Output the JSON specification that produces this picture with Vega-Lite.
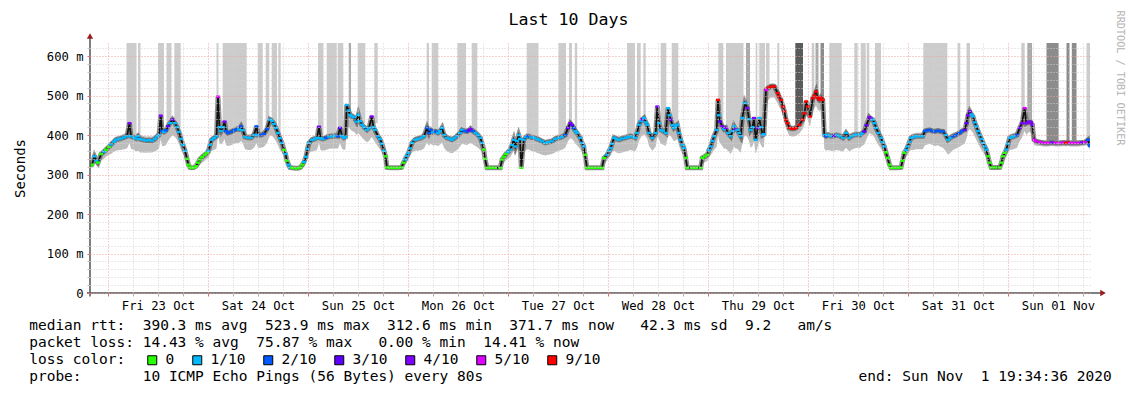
{
"$schema": "https://vega.github.io/schema/vega-lite/v6.json",
"width": 1000,
"height": 250,
"autosize": {"type": "none"},
"padding": {"left": 90, "top": 43, "right": 43, "bottom": 104},
"background": "white",
"config": {"font": "DejaVu Sans Mono", "view": {"stroke": null}},
"datasets": {
"bars": [
{"d0":0.185,"d1":0.285,"b":400,"s":1},{"d0":0.30,"d1":0.325,"b":400,"s":1},{"d0":0.50,"d1":0.56,"b":405,"s":1},{"d0":0.585,"d1":0.635,"b":410,"s":1},{"d0":0.663,"d1":0.727,"b":420,"s":1},
{"d0":1.085,"d1":1.105,"b":410,"s":1},{"d0":1.147,"d1":1.387,"b":400,"s":1},{"d0":1.497,"d1":1.547,"b":400,"s":1},{"d0":1.577,"d1":1.613,"b":410,"s":1},{"d0":1.637,"d1":1.69,"b":420,"s":1},{"d0":1.703,"d1":1.727,"b":400,"s":1},
{"d0":2.10,"d1":2.155,"b":400,"s":1},{"d0":2.187,"d1":2.287,"b":400,"s":1},{"d0":2.297,"d1":2.353,"b":400,"s":1},{"d0":2.407,"d1":2.43,"b":450,"s":2},{"d0":2.497,"d1":2.573,"b":430,"s":1},{"d0":2.663,"d1":2.697,"b":430,"s":1},
{"d0":3.187,"d1":3.21,"b":405,"s":1},{"d0":3.237,"d1":3.303,"b":405,"s":1},{"d0":3.493,"d1":3.58,"b":400,"s":1},{"d0":3.637,"d1":3.693,"b":410,"s":1},
{"d0":4.187,"d1":4.305,"b":395,"s":1},{"d0":4.505,"d1":4.58,"b":395,"s":1},{"d0":4.61,"d1":4.64,"b":415,"s":1},{"d0":4.668,"d1":4.692,"b":410,"s":1},
{"d0":5.19,"d1":5.27,"b":395,"s":1},{"d0":5.29,"d1":5.327,"b":395,"s":1},{"d0":5.353,"d1":5.377,"b":400,"s":1},{"d0":5.527,"d1":5.583,"b":410,"s":1},{"d0":5.637,"d1":5.703,"b":420,"s":1},
{"d0":6.103,"d1":6.153,"b":420,"s":1},{"d0":6.18,"d1":6.355,"b":405,"s":1},{"d0":6.38,"d1":6.42,"b":430,"s":2},{"d0":6.477,"d1":6.493,"b":400,"s":1},{"d0":6.513,"d1":6.57,"b":405,"s":1},{"d0":6.58,"d1":6.615,"b":515,"s":1},{"d0":6.693,"d1":6.713,"b":500,"s":1},{"d0":6.873,"d1":6.95,"b":418,"s":4},
{"d0":7.037,"d1":7.063,"b":480,"s":1},{"d0":7.075,"d1":7.105,"b":490,"s":2},{"d0":7.125,"d1":7.16,"b":480,"s":3},{"d0":7.213,"d1":7.337,"b":400,"s":1},{"d0":7.463,"d1":7.497,"b":400,"s":1},{"d0":7.527,"d1":7.577,"b":405,"s":1},{"d0":7.587,"d1":7.613,"b":440,"s":1},{"d0":7.67,"d1":7.73,"b":400,"s":1},
{"d0":8.153,"d1":8.393,"b":405,"s":1},{"d0":8.495,"d1":8.523,"b":405,"s":1},{"d0":8.585,"d1":8.62,"b":440,"s":1},
{"d0":9.133,"d1":9.167,"b":430,"s":1},{"d0":9.193,"d1":9.24,"b":430,"s":2},{"d0":9.385,"d1":9.507,"b":385,"s":3},{"d0":9.585,"d1":9.615,"b":385,"s":3},{"d0":9.638,"d1":9.685,"b":385,"s":3},{"d0":9.785,"d1":9.82,"b":390,"s":1}
],
"pts": [
{"d":-0.175,"m":323,"lo":318,"hi":328,"l":"0"},
{"d":-0.16,"m":325,"lo":318,"hi":332,"l":"0"},
{"d":-0.135,"m":346,"lo":330,"hi":352,"l":"1/10"},
{"d":-0.115,"m":335,"lo":322,"hi":342,"l":"1/10"},
{"d":-0.1,"m":330,"lo":320,"hi":338,"l":"0"},
{"d":-0.07,"m":352,"lo":336,"hi":358,"l":"0"},
{"d":-0.04,"m":358,"lo":340,"hi":365,"l":"1/10"},
{"d":-0.02,"m":363,"lo":345,"hi":370,"l":"0"},
{"d":0.01,"m":370,"lo":350,"hi":378,"l":"0"},
{"d":0.03,"m":376,"lo":352,"hi":384,"l":"1/10"},
{"d":0.06,"m":383,"lo":358,"hi":392,"l":"1/10"},
{"d":0.08,"m":388,"lo":360,"hi":396,"l":"1/10"},
{"d":0.11,"m":390,"lo":362,"hi":398,"l":"1/10"},
{"d":0.13,"m":391,"lo":362,"hi":400,"l":"1/10"},
{"d":0.16,"m":394,"lo":364,"hi":403,"l":"1/10"},
{"d":0.19,"m":397,"lo":366,"hi":406,"l":"1/10"},
{"d":0.215,"m":430,"lo":380,"hi":436,"l":"4/10"},
{"d":0.23,"m":397,"lo":365,"hi":406,"l":"1/10"},
{"d":0.26,"m":393,"lo":362,"hi":403,"l":"1/10"},
{"d":0.28,"m":391,"lo":358,"hi":401,"l":"1/10"},
{"d":0.30,"m":397,"lo":360,"hi":406,"l":"1/10"},
{"d":0.32,"m":390,"lo":356,"hi":400,"l":"1/10"},
{"d":0.35,"m":388,"lo":356,"hi":398,"l":"1/10"},
{"d":0.38,"m":386,"lo":355,"hi":396,"l":"1/10"},
{"d":0.41,"m":387,"lo":356,"hi":397,"l":"1/10"},
{"d":0.44,"m":386,"lo":356,"hi":396,"l":"1/10"},
{"d":0.47,"m":390,"lo":358,"hi":400,"l":"1/10"},
{"d":0.49,"m":396,"lo":362,"hi":405,"l":"1/10"},
{"d":0.51,"m":400,"lo":366,"hi":410,"l":"1/10"},
{"d":0.527,"m":449,"lo":390,"hi":455,"l":"4/10"},
{"d":0.54,"m":410,"lo":372,"hi":418,"l":"2/10"},
{"d":0.56,"m":408,"lo":372,"hi":416,"l":"1/10"},
{"d":0.58,"m":412,"lo":375,"hi":420,"l":"2/10"},
{"d":0.60,"m":422,"lo":385,"hi":430,"l":"3/10"},
{"d":0.62,"m":430,"lo":392,"hi":438,"l":"1/10"},
{"d":0.645,"m":439,"lo":400,"hi":446,"l":"4/10"},
{"d":0.67,"m":430,"lo":395,"hi":438,"l":"1/10"},
{"d":0.69,"m":420,"lo":388,"hi":428,"l":"1/10"},
{"d":0.71,"m":408,"lo":378,"hi":416,"l":"1/10"},
{"d":0.73,"m":390,"lo":362,"hi":398,"l":"1/10"},
{"d":0.75,"m":375,"lo":352,"hi":383,"l":"1/10"},
{"d":0.77,"m":360,"lo":342,"hi":367,"l":"1/10"},
{"d":0.79,"m":340,"lo":326,"hi":346,"l":"0"},
{"d":0.805,"m":325,"lo":318,"hi":330,"l":"0"},
{"d":0.82,"m":318,"lo":313,"hi":322,"l":"0"},
{"d":0.84,"m":317,"lo":313,"hi":321,"l":"0"},
{"d":0.86,"m":318,"lo":313,"hi":322,"l":"0"},
{"d":0.88,"m":321,"lo":315,"hi":326,"l":"0"},
{"d":0.90,"m":330,"lo":320,"hi":336,"l":"0"},
{"d":0.917,"m":338,"lo":325,"hi":344,"l":"0"},
{"d":0.94,"m":344,"lo":330,"hi":350,"l":"0"},
{"d":0.967,"m":350,"lo":335,"hi":356,"l":"0"},
{"d":0.99,"m":355,"lo":340,"hi":361,"l":"0"},
{"d":1.005,"m":360,"lo":343,"hi":367,"l":"1/10"},
{"d":1.02,"m":375,"lo":352,"hi":382,"l":"1/10"},
{"d":1.035,"m":388,"lo":360,"hi":396,"l":"1/10"},
{"d":1.06,"m":392,"lo":362,"hi":401,"l":"1/10"},
{"d":1.085,"m":397,"lo":366,"hi":406,"l":"1/10"},
{"d":1.10,"m":497,"lo":400,"hi":502,"l":"5/10"},
{"d":1.115,"m":420,"lo":380,"hi":428,"l":"1/10"},
{"d":1.13,"m":410,"lo":376,"hi":418,"l":"1/10"},
{"d":1.15,"m":420,"lo":382,"hi":428,"l":"1/10"},
{"d":1.165,"m":434,"lo":390,"hi":440,"l":"4/10"},
{"d":1.18,"m":410,"lo":375,"hi":418,"l":"2/10"},
{"d":1.20,"m":405,"lo":372,"hi":413,"l":"2/10"},
{"d":1.23,"m":408,"lo":374,"hi":416,"l":"2/10"},
{"d":1.26,"m":412,"lo":378,"hi":420,"l":"2/10"},
{"d":1.29,"m":415,"lo":380,"hi":423,"l":"2/10"},
{"d":1.31,"m":414,"lo":380,"hi":422,"l":"1/10"},
{"d":1.33,"m":422,"lo":385,"hi":430,"l":"2/10"},
{"d":1.35,"m":412,"lo":378,"hi":420,"l":"1/10"},
{"d":1.37,"m":395,"lo":364,"hi":404,"l":"1/10"},
{"d":1.40,"m":393,"lo":362,"hi":402,"l":"1/10"},
{"d":1.43,"m":393,"lo":362,"hi":402,"l":"1/10"},
{"d":1.46,"m":400,"lo":368,"hi":408,"l":"1/10"},
{"d":1.485,"m":422,"lo":380,"hi":428,"l":"2/10"},
{"d":1.50,"m":400,"lo":368,"hi":408,"l":"1/10"},
{"d":1.53,"m":400,"lo":368,"hi":408,"l":"2/10"},
{"d":1.56,"m":403,"lo":370,"hi":411,"l":"2/10"},
{"d":1.59,"m":415,"lo":380,"hi":423,"l":"2/10"},
{"d":1.62,"m":439,"lo":400,"hi":446,"l":"1/10"},
{"d":1.64,"m":436,"lo":398,"hi":444,"l":"1/10"},
{"d":1.66,"m":428,"lo":392,"hi":436,"l":"1/10"},
{"d":1.68,"m":418,"lo":384,"hi":426,"l":"1/10"},
{"d":1.70,"m":405,"lo":374,"hi":413,"l":"1/10"},
{"d":1.72,"m":392,"lo":362,"hi":400,"l":"1/10"},
{"d":1.74,"m":380,"lo":355,"hi":388,"l":"1/10"},
{"d":1.76,"m":362,"lo":344,"hi":369,"l":"0"},
{"d":1.775,"m":352,"lo":337,"hi":358,"l":"1/10"},
{"d":1.79,"m":335,"lo":322,"hi":341,"l":"0"},
{"d":1.805,"m":325,"lo":316,"hi":330,"l":"1/10"},
{"d":1.82,"m":318,"lo":313,"hi":322,"l":"1/10"},
{"d":1.84,"m":317,"lo":313,"hi":321,"l":"0"},
{"d":1.87,"m":316,"lo":312,"hi":320,"l":"0"},
{"d":1.90,"m":316,"lo":312,"hi":320,"l":"0"},
{"d":1.925,"m":318,"lo":313,"hi":322,"l":"0"},
{"d":1.945,"m":325,"lo":317,"hi":330,"l":"0"},
{"d":1.96,"m":332,"lo":321,"hi":338,"l":"1/10"},
{"d":1.98,"m":345,"lo":330,"hi":351,"l":"1/10"},
{"d":1.995,"m":365,"lo":345,"hi":372,"l":"1/10"},
{"d":2.01,"m":380,"lo":355,"hi":388,"l":"1/10"},
{"d":2.04,"m":388,"lo":358,"hi":396,"l":"1/10"},
{"d":2.07,"m":390,"lo":360,"hi":398,"l":"1/10"},
{"d":2.09,"m":393,"lo":362,"hi":402,"l":"1/10"},
{"d":2.11,"m":421,"lo":380,"hi":428,"l":"4/10"},
{"d":2.125,"m":392,"lo":362,"hi":400,"l":"1/10"},
{"d":2.15,"m":390,"lo":360,"hi":398,"l":"1/10"},
{"d":2.18,"m":393,"lo":362,"hi":402,"l":"2/10"},
{"d":2.21,"m":396,"lo":365,"hi":405,"l":"1/10"},
{"d":2.24,"m":397,"lo":366,"hi":406,"l":"1/10"},
{"d":2.27,"m":398,"lo":366,"hi":407,"l":"1/10"},
{"d":2.30,"m":397,"lo":366,"hi":406,"l":"2/10"},
{"d":2.32,"m":418,"lo":380,"hi":425,"l":"3/10"},
{"d":2.34,"m":398,"lo":366,"hi":407,"l":"1/10"},
{"d":2.36,"m":393,"lo":362,"hi":402,"l":"1/10"},
{"d":2.375,"m":395,"lo":364,"hi":404,"l":"1/10"},
{"d":2.387,"m":476,"lo":420,"hi":482,"l":"1/10"},
{"d":2.405,"m":462,"lo":420,"hi":470,"l":"1/10"},
{"d":2.42,"m":451,"lo":415,"hi":460,"l":"1/10"},
{"d":2.44,"m":447,"lo":410,"hi":456,"l":"1/10"},
{"d":2.46,"m":445,"lo":408,"hi":454,"l":"1/10"},
{"d":2.485,"m":434,"lo":400,"hi":443,"l":"1/10"},
{"d":2.503,"m":451,"lo":405,"hi":458,"l":"1/10"},
{"d":2.52,"m":435,"lo":400,"hi":443,"l":"1/10"},
{"d":2.54,"m":426,"lo":394,"hi":434,"l":"1/10"},
{"d":2.56,"m":420,"lo":388,"hi":428,"l":"1/10"},
{"d":2.59,"m":413,"lo":382,"hi":421,"l":"1/10"},
{"d":2.61,"m":418,"lo":385,"hi":426,"l":"1/10"},
{"d":2.637,"m":447,"lo":395,"hi":453,"l":"4/10"},
{"d":2.655,"m":420,"lo":388,"hi":428,"l":"1/10"},
{"d":2.67,"m":413,"lo":382,"hi":421,"l":"1/10"},
{"d":2.70,"m":397,"lo":370,"hi":405,"l":"1/10"},
{"d":2.72,"m":390,"lo":364,"hi":398,"l":"1/10"},
{"d":2.74,"m":378,"lo":356,"hi":386,"l":"1/10"},
{"d":2.76,"m":360,"lo":343,"hi":367,"l":"1/10"},
{"d":2.775,"m":346,"lo":332,"hi":352,"l":"0"},
{"d":2.79,"m":318,"lo":313,"hi":323,"l":"0"},
{"d":2.82,"m":317,"lo":313,"hi":321,"l":"0"},
{"d":2.86,"m":317,"lo":313,"hi":321,"l":"0"},
{"d":2.90,"m":317,"lo":313,"hi":321,"l":"0"},
{"d":2.935,"m":318,"lo":313,"hi":322,"l":"0"},
{"d":2.955,"m":330,"lo":320,"hi":336,"l":"0"},
{"d":2.97,"m":338,"lo":325,"hi":344,"l":"1/10"},
{"d":2.99,"m":347,"lo":332,"hi":353,"l":"1/10"},
{"d":3.005,"m":355,"lo":338,"hi":361,"l":"1/10"},
{"d":3.02,"m":366,"lo":346,"hi":373,"l":"1/10"},
{"d":3.04,"m":380,"lo":356,"hi":388,"l":"1/10"},
{"d":3.07,"m":388,"lo":360,"hi":396,"l":"1/10"},
{"d":3.10,"m":390,"lo":360,"hi":398,"l":"1/10"},
{"d":3.135,"m":393,"lo":362,"hi":402,"l":"1/10"},
{"d":3.16,"m":397,"lo":366,"hi":406,"l":"1/10"},
{"d":3.19,"m":418,"lo":382,"hi":425,"l":"2/10"},
{"d":3.21,"m":405,"lo":372,"hi":413,"l":"2/10"},
{"d":3.225,"m":413,"lo":378,"hi":421,"l":"2/10"},
{"d":3.25,"m":407,"lo":374,"hi":415,"l":"1/10"},
{"d":3.275,"m":409,"lo":375,"hi":417,"l":"2/10"},
{"d":3.30,"m":405,"lo":372,"hi":413,"l":"1/10"},
{"d":3.32,"m":410,"lo":376,"hi":418,"l":"1/10"},
{"d":3.34,"m":418,"lo":382,"hi":426,"l":"1/10"},
{"d":3.36,"m":400,"lo":368,"hi":408,"l":"1/10"},
{"d":3.39,"m":393,"lo":358,"hi":402,"l":"1/10"},
{"d":3.42,"m":390,"lo":355,"hi":398,"l":"1/10"},
{"d":3.44,"m":388,"lo":354,"hi":396,"l":"1/10"},
{"d":3.465,"m":392,"lo":357,"hi":400,"l":"1/10"},
{"d":3.49,"m":397,"lo":362,"hi":406,"l":"1/10"},
{"d":3.52,"m":405,"lo":370,"hi":413,"l":"1/10"},
{"d":3.54,"m":413,"lo":378,"hi":421,"l":"1/10"},
{"d":3.565,"m":410,"lo":376,"hi":418,"l":"2/10"},
{"d":3.59,"m":409,"lo":375,"hi":417,"l":"2/10"},
{"d":3.61,"m":412,"lo":378,"hi":420,"l":"3/10"},
{"d":3.625,"m":416,"lo":380,"hi":424,"l":"4/10"},
{"d":3.65,"m":410,"lo":376,"hi":418,"l":"2/10"},
{"d":3.675,"m":405,"lo":372,"hi":413,"l":"1/10"},
{"d":3.70,"m":400,"lo":368,"hi":408,"l":"1/10"},
{"d":3.723,"m":393,"lo":362,"hi":401,"l":"1/10"},
{"d":3.74,"m":380,"lo":356,"hi":388,"l":"1/10"},
{"d":3.757,"m":363,"lo":345,"hi":370,"l":"0"},
{"d":3.77,"m":340,"lo":326,"hi":346,"l":"0"},
{"d":3.79,"m":317,"lo":313,"hi":321,"l":"0"},
{"d":3.83,"m":317,"lo":313,"hi":321,"l":"0"},
{"d":3.87,"m":317,"lo":313,"hi":321,"l":"0"},
{"d":3.923,"m":317,"lo":313,"hi":321,"l":"0"},
{"d":3.94,"m":338,"lo":325,"hi":344,"l":"0"},
{"d":3.96,"m":345,"lo":330,"hi":351,"l":"0"},
{"d":3.98,"m":352,"lo":336,"hi":358,"l":"0"},
{"d":4.00,"m":357,"lo":340,"hi":364,"l":"1/10"},
{"d":4.023,"m":363,"lo":344,"hi":370,"l":"1/10"},
{"d":4.04,"m":375,"lo":352,"hi":382,"l":"1/10"},
{"d":4.057,"m":388,"lo":360,"hi":396,"l":"1/10"},
{"d":4.073,"m":371,"lo":350,"hi":378,"l":"1/10"},
{"d":4.09,"m":385,"lo":358,"hi":393,"l":"1/10"},
{"d":4.107,"m":400,"lo":366,"hi":408,"l":"1/10"},
{"d":4.12,"m":390,"lo":360,"hi":398,"l":"1/10"},
{"d":4.133,"m":317,"lo":313,"hi":322,"l":"0"},
{"d":4.157,"m":388,"lo":358,"hi":396,"l":"1/10"},
{"d":4.18,"m":395,"lo":362,"hi":404,"l":"1/10"},
{"d":4.20,"m":397,"lo":364,"hi":406,"l":"2/10"},
{"d":4.23,"m":394,"lo":360,"hi":403,"l":"1/10"},
{"d":4.26,"m":393,"lo":358,"hi":402,"l":"1/10"},
{"d":4.29,"m":390,"lo":355,"hi":398,"l":"1/10"},
{"d":4.31,"m":388,"lo":353,"hi":396,"l":"1/10"},
{"d":4.34,"m":384,"lo":350,"hi":392,"l":"1/10"},
{"d":4.373,"m":380,"lo":348,"hi":388,"l":"1/10"},
{"d":4.40,"m":382,"lo":350,"hi":390,"l":"1/10"},
{"d":4.44,"m":384,"lo":352,"hi":392,"l":"1/10"},
{"d":4.47,"m":390,"lo":356,"hi":398,"l":"1/10"},
{"d":4.507,"m":393,"lo":360,"hi":402,"l":"1/10"},
{"d":4.54,"m":395,"lo":363,"hi":404,"l":"1/10"},
{"d":4.573,"m":400,"lo":368,"hi":408,"l":"2/10"},
{"d":4.60,"m":418,"lo":384,"hi":426,"l":"3/10"},
{"d":4.623,"m":430,"lo":392,"hi":438,"l":"4/10"},
{"d":4.64,"m":425,"lo":390,"hi":433,"l":"3/10"},
{"d":4.657,"m":418,"lo":385,"hi":426,"l":"2/10"},
{"d":4.675,"m":410,"lo":378,"hi":418,"l":"1/10"},
{"d":4.69,"m":405,"lo":374,"hi":413,"l":"1/10"},
{"d":4.723,"m":393,"lo":364,"hi":401,"l":"1/10"},
{"d":4.74,"m":380,"lo":356,"hi":388,"l":"1/10"},
{"d":4.757,"m":371,"lo":350,"hi":378,"l":"1/10"},
{"d":4.77,"m":350,"lo":335,"hi":356,"l":"0"},
{"d":4.79,"m":317,"lo":313,"hi":321,"l":"0"},
{"d":4.82,"m":317,"lo":313,"hi":321,"l":"0"},
{"d":4.86,"m":317,"lo":313,"hi":321,"l":"0"},
{"d":4.90,"m":317,"lo":313,"hi":321,"l":"0"},
{"d":4.94,"m":317,"lo":313,"hi":321,"l":"0"},
{"d":4.96,"m":342,"lo":328,"hi":348,"l":"0"},
{"d":4.993,"m":350,"lo":335,"hi":356,"l":"1/10"},
{"d":5.01,"m":360,"lo":343,"hi":367,"l":"1/10"},
{"d":5.027,"m":367,"lo":348,"hi":374,"l":"1/10"},
{"d":5.04,"m":378,"lo":355,"hi":386,"l":"1/10"},
{"d":5.06,"m":393,"lo":360,"hi":402,"l":"1/10"},
{"d":5.085,"m":390,"lo":356,"hi":398,"l":"1/10"},
{"d":5.11,"m":388,"lo":354,"hi":396,"l":"1/10"},
{"d":5.14,"m":391,"lo":356,"hi":399,"l":"1/10"},
{"d":5.177,"m":393,"lo":358,"hi":402,"l":"1/10"},
{"d":5.20,"m":395,"lo":360,"hi":404,"l":"1/10"},
{"d":5.227,"m":397,"lo":362,"hi":406,"l":"1/10"},
{"d":5.25,"m":395,"lo":360,"hi":404,"l":"1/10"},
{"d":5.27,"m":393,"lo":358,"hi":402,"l":"1/10"},
{"d":5.29,"m":405,"lo":368,"hi":413,"l":"1/10"},
{"d":5.31,"m":426,"lo":385,"hi":434,"l":"1/10"},
{"d":5.33,"m":435,"lo":395,"hi":443,"l":"1/10"},
{"d":5.345,"m":440,"lo":400,"hi":448,"l":"4/10"},
{"d":5.36,"m":443,"lo":402,"hi":450,"l":"1/10"},
{"d":5.38,"m":432,"lo":395,"hi":440,"l":"1/10"},
{"d":5.393,"m":426,"lo":390,"hi":434,"l":"1/10"},
{"d":5.41,"m":405,"lo":372,"hi":413,"l":"1/10"},
{"d":5.443,"m":393,"lo":360,"hi":402,"l":"1/10"},
{"d":5.477,"m":405,"lo":370,"hi":413,"l":"1/10"},
{"d":5.493,"m":472,"lo":395,"hi":478,"l":"4/10"},
{"d":5.51,"m":430,"lo":390,"hi":438,"l":"1/10"},
{"d":5.527,"m":413,"lo":378,"hi":421,"l":"1/10"},
{"d":5.55,"m":410,"lo":376,"hi":418,"l":"1/10"},
{"d":5.577,"m":405,"lo":372,"hi":413,"l":"1/10"},
{"d":5.60,"m":468,"lo":395,"hi":474,"l":"1/10"},
{"d":5.615,"m":450,"lo":400,"hi":456,"l":"1/10"},
{"d":5.627,"m":439,"lo":398,"hi":446,"l":"4/10"},
{"d":5.645,"m":425,"lo":390,"hi":433,"l":"1/10"},
{"d":5.66,"m":418,"lo":384,"hi":426,"l":"1/10"},
{"d":5.675,"m":422,"lo":386,"hi":430,"l":"1/10"},
{"d":5.693,"m":426,"lo":390,"hi":434,"l":"1/10"},
{"d":5.71,"m":405,"lo":372,"hi":413,"l":"1/10"},
{"d":5.727,"m":388,"lo":360,"hi":396,"l":"1/10"},
{"d":5.745,"m":375,"lo":352,"hi":382,"l":"1/10"},
{"d":5.76,"m":367,"lo":348,"hi":374,"l":"1/10"},
{"d":5.777,"m":342,"lo":328,"hi":348,"l":"0"},
{"d":5.793,"m":317,"lo":313,"hi":321,"l":"0"},
{"d":5.84,"m":317,"lo":313,"hi":321,"l":"0"},
{"d":5.88,"m":317,"lo":313,"hi":321,"l":"0"},
{"d":5.927,"m":317,"lo":313,"hi":321,"l":"0"},
{"d":5.943,"m":342,"lo":328,"hi":348,"l":"0"},
{"d":5.97,"m":346,"lo":331,"hi":352,"l":"0"},
{"d":5.993,"m":350,"lo":334,"hi":356,"l":"0"},
{"d":6.01,"m":362,"lo":343,"hi":369,"l":"1/10"},
{"d":6.027,"m":371,"lo":349,"hi":378,"l":"1/10"},
{"d":6.045,"m":385,"lo":356,"hi":393,"l":"1/10"},
{"d":6.06,"m":397,"lo":362,"hi":406,"l":"1/10"},
{"d":6.087,"m":413,"lo":370,"hi":421,"l":"1/10"},
{"d":6.10,"m":489,"lo":400,"hi":495,"l":"9/10"},
{"d":6.11,"m":450,"lo":385,"hi":458,"l":"1/10"},
{"d":6.12,"m":434,"lo":380,"hi":442,"l":"3/10"},
{"d":6.143,"m":422,"lo":372,"hi":430,"l":"4/10"},
{"d":6.16,"m":415,"lo":365,"hi":423,"l":"1/10"},
{"d":6.177,"m":418,"lo":366,"hi":426,"l":"4/10"},
{"d":6.20,"m":405,"lo":360,"hi":413,"l":"1/10"},
{"d":6.227,"m":397,"lo":352,"hi":406,"l":"1/10"},
{"d":6.245,"m":410,"lo":362,"hi":418,"l":"1/10"},
{"d":6.26,"m":422,"lo":370,"hi":430,"l":"1/10"},
{"d":6.275,"m":415,"lo":366,"hi":423,"l":"4/10"},
{"d":6.293,"m":413,"lo":365,"hi":421,"l":"1/10"},
{"d":6.31,"m":405,"lo":360,"hi":413,"l":"1/10"},
{"d":6.327,"m":397,"lo":355,"hi":406,"l":"1/10"},
{"d":6.343,"m":443,"lo":380,"hi":450,"l":"1/10"},
{"d":6.37,"m":481,"lo":400,"hi":487,"l":"1/10"},
{"d":6.393,"m":468,"lo":395,"hi":474,"l":"4/10"},
{"d":6.41,"m":440,"lo":385,"hi":447,"l":"1/10"},
{"d":6.427,"m":413,"lo":368,"hi":421,"l":"1/10"},
{"d":6.445,"m":420,"lo":372,"hi":428,"l":"1/10"},
{"d":6.46,"m":443,"lo":385,"hi":450,"l":"4/10"},
{"d":6.477,"m":388,"lo":352,"hi":396,"l":"1/10"},
{"d":6.497,"m":418,"lo":370,"hi":426,"l":"4/10"},
{"d":6.513,"m":443,"lo":385,"hi":450,"l":"1/10"},
{"d":6.53,"m":420,"lo":375,"hi":428,"l":"1/10"},
{"d":6.547,"m":400,"lo":368,"hi":408,"l":"1/10"},
{"d":6.56,"m":402,"lo":370,"hi":410,"l":"1/10"},
{"d":6.58,"m":514,"lo":470,"hi":520,"l":"5/10"},
{"d":6.605,"m":520,"lo":490,"hi":528,"l":"9/10"},
{"d":6.63,"m":523,"lo":495,"hi":531,"l":"9/10"},
{"d":6.663,"m":523,"lo":495,"hi":531,"l":"9/10"},
{"d":6.697,"m":506,"lo":480,"hi":514,"l":"9/10"},
{"d":6.71,"m":498,"lo":472,"hi":506,"l":"9/10"},
{"d":6.73,"m":489,"lo":464,"hi":497,"l":"9/10"},
{"d":6.75,"m":472,"lo":448,"hi":480,"l":"9/10"},
{"d":6.763,"m":460,"lo":436,"hi":468,"l":"9/10"},
{"d":6.78,"m":439,"lo":416,"hi":447,"l":"9/10"},
{"d":6.795,"m":430,"lo":408,"hi":438,"l":"9/10"},
{"d":6.813,"m":418,"lo":398,"hi":426,"l":"9/10"},
{"d":6.84,"m":416,"lo":396,"hi":424,"l":"9/10"},
{"d":6.86,"m":416,"lo":396,"hi":424,"l":"9/10"},
{"d":6.88,"m":418,"lo":398,"hi":426,"l":"9/10"},
{"d":6.913,"m":426,"lo":404,"hi":434,"l":"9/10"},
{"d":6.947,"m":439,"lo":415,"hi":447,"l":"9/10"},
{"d":6.965,"m":455,"lo":428,"hi":463,"l":"9/10"},
{"d":6.98,"m":485,"lo":450,"hi":492,"l":"9/10"},
{"d":6.997,"m":472,"lo":440,"hi":480,"l":"9/10"},
{"d":7.02,"m":447,"lo":420,"hi":455,"l":"9/10"},
{"d":7.047,"m":493,"lo":460,"hi":500,"l":"9/10"},
{"d":7.065,"m":500,"lo":468,"hi":508,"l":"9/10"},
{"d":7.08,"m":510,"lo":475,"hi":518,"l":"9/10"},
{"d":7.095,"m":495,"lo":465,"hi":503,"l":"9/10"},
{"d":7.113,"m":489,"lo":460,"hi":497,"l":"9/10"},
{"d":7.13,"m":495,"lo":465,"hi":503,"l":"9/10"},
{"d":7.147,"m":489,"lo":460,"hi":497,"l":"9/10"},
{"d":7.163,"m":400,"lo":365,"hi":408,"l":"1/10"},
{"d":7.18,"m":397,"lo":360,"hi":406,"l":"2/10"},
{"d":7.20,"m":400,"lo":362,"hi":408,"l":"1/10"},
{"d":7.23,"m":397,"lo":360,"hi":406,"l":"1/10"},
{"d":7.26,"m":398,"lo":360,"hi":407,"l":"3/10"},
{"d":7.29,"m":400,"lo":362,"hi":408,"l":"1/10"},
{"d":7.32,"m":397,"lo":360,"hi":406,"l":"1/10"},
{"d":7.35,"m":393,"lo":358,"hi":402,"l":"1/10"},
{"d":7.38,"m":405,"lo":368,"hi":413,"l":"1/10"},
{"d":7.413,"m":393,"lo":358,"hi":402,"l":"1/10"},
{"d":7.435,"m":397,"lo":362,"hi":406,"l":"1/10"},
{"d":7.463,"m":400,"lo":366,"hi":408,"l":"1/10"},
{"d":7.49,"m":401,"lo":368,"hi":409,"l":"1/10"},
{"d":7.52,"m":400,"lo":368,"hi":408,"l":"1/10"},
{"d":7.54,"m":404,"lo":372,"hi":412,"l":"1/10"},
{"d":7.563,"m":409,"lo":376,"hi":417,"l":"3/10"},
{"d":7.585,"m":425,"lo":390,"hi":433,"l":"3/10"},
{"d":7.613,"m":445,"lo":405,"hi":452,"l":"4/10"},
{"d":7.63,"m":441,"lo":402,"hi":448,"l":"4/10"},
{"d":7.647,"m":439,"lo":400,"hi":446,"l":"1/10"},
{"d":7.665,"m":430,"lo":394,"hi":438,"l":"1/10"},
{"d":7.68,"m":418,"lo":385,"hi":426,"l":"1/10"},
{"d":7.705,"m":405,"lo":374,"hi":413,"l":"1/10"},
{"d":7.73,"m":393,"lo":365,"hi":401,"l":"1/10"},
{"d":7.745,"m":382,"lo":358,"hi":390,"l":"1/10"},
{"d":7.763,"m":371,"lo":350,"hi":378,"l":"1/10"},
{"d":7.78,"m":356,"lo":340,"hi":362,"l":"0"},
{"d":7.797,"m":342,"lo":328,"hi":348,"l":"0"},
{"d":7.815,"m":325,"lo":317,"hi":330,"l":"0"},
{"d":7.83,"m":317,"lo":313,"hi":321,"l":"0"},
{"d":7.87,"m":317,"lo":313,"hi":321,"l":"0"},
{"d":7.90,"m":317,"lo":313,"hi":321,"l":"0"},
{"d":7.93,"m":318,"lo":313,"hi":322,"l":"0"},
{"d":7.945,"m":335,"lo":323,"hi":341,"l":"0"},
{"d":7.963,"m":355,"lo":338,"hi":361,"l":"0"},
{"d":7.98,"m":362,"lo":344,"hi":369,"l":"1/10"},
{"d":7.997,"m":371,"lo":350,"hi":378,"l":"1/10"},
{"d":8.015,"m":383,"lo":358,"hi":391,"l":"1/10"},
{"d":8.03,"m":393,"lo":362,"hi":402,"l":"1/10"},
{"d":8.055,"m":395,"lo":362,"hi":404,"l":"1/10"},
{"d":8.08,"m":397,"lo":364,"hi":406,"l":"1/10"},
{"d":8.11,"m":397,"lo":364,"hi":406,"l":"1/10"},
{"d":8.147,"m":397,"lo":364,"hi":406,"l":"1/10"},
{"d":8.17,"m":410,"lo":374,"hi":418,"l":"2/10"},
{"d":8.195,"m":412,"lo":376,"hi":420,"l":"2/10"},
{"d":8.217,"m":413,"lo":378,"hi":421,"l":"2/10"},
{"d":8.245,"m":410,"lo":375,"hi":418,"l":"2/10"},
{"d":8.27,"m":409,"lo":372,"hi":417,"l":"2/10"},
{"d":8.30,"m":411,"lo":374,"hi":419,"l":"2/10"},
{"d":8.325,"m":409,"lo":370,"hi":417,"l":"2/10"},
{"d":8.35,"m":409,"lo":368,"hi":417,"l":"2/10"},
{"d":8.375,"m":400,"lo":360,"hi":408,"l":"1/10"},
{"d":8.40,"m":388,"lo":350,"hi":396,"l":"1/10"},
{"d":8.425,"m":393,"lo":356,"hi":402,"l":"1/10"},
{"d":8.45,"m":397,"lo":362,"hi":406,"l":"2/10"},
{"d":8.48,"m":400,"lo":366,"hi":408,"l":"2/10"},
{"d":8.517,"m":405,"lo":370,"hi":413,"l":"2/10"},
{"d":8.54,"m":410,"lo":375,"hi":418,"l":"2/10"},
{"d":8.567,"m":413,"lo":378,"hi":421,"l":"3/10"},
{"d":8.585,"m":430,"lo":392,"hi":438,"l":"3/10"},
{"d":8.60,"m":450,"lo":408,"hi":457,"l":"4/10"},
{"d":8.617,"m":460,"lo":415,"hi":467,"l":"4/10"},
{"d":8.635,"m":452,"lo":410,"hi":460,"l":"1/10"},
{"d":8.65,"m":447,"lo":406,"hi":455,"l":"1/10"},
{"d":8.667,"m":432,"lo":396,"hi":440,"l":"1/10"},
{"d":8.683,"m":422,"lo":388,"hi":430,"l":"1/10"},
{"d":8.70,"m":410,"lo":378,"hi":418,"l":"1/10"},
{"d":8.717,"m":400,"lo":370,"hi":408,"l":"1/10"},
{"d":8.735,"m":390,"lo":362,"hi":398,"l":"1/10"},
{"d":8.75,"m":380,"lo":356,"hi":388,"l":"1/10"},
{"d":8.767,"m":371,"lo":350,"hi":378,"l":"1/10"},
{"d":8.783,"m":363,"lo":345,"hi":370,"l":"1/10"},
{"d":8.80,"m":346,"lo":332,"hi":352,"l":"0"},
{"d":8.815,"m":330,"lo":320,"hi":335,"l":"0"},
{"d":8.833,"m":318,"lo":313,"hi":322,"l":"0"},
{"d":8.87,"m":318,"lo":313,"hi":322,"l":"0"},
{"d":8.917,"m":318,"lo":313,"hi":322,"l":"0"},
{"d":8.935,"m":330,"lo":320,"hi":335,"l":"0"},
{"d":8.95,"m":346,"lo":332,"hi":352,"l":"0"},
{"d":8.967,"m":355,"lo":338,"hi":361,"l":"0"},
{"d":8.983,"m":363,"lo":345,"hi":370,"l":"1/10"},
{"d":9.00,"m":378,"lo":355,"hi":386,"l":"1/10"},
{"d":9.017,"m":393,"lo":362,"hi":402,"l":"1/10"},
{"d":9.04,"m":395,"lo":363,"hi":404,"l":"1/10"},
{"d":9.067,"m":397,"lo":365,"hi":406,"l":"1/10"},
{"d":9.09,"m":400,"lo":368,"hi":408,"l":"2/10"},
{"d":9.117,"m":418,"lo":384,"hi":426,"l":"4/10"},
{"d":9.14,"m":430,"lo":394,"hi":438,"l":"4/10"},
{"d":9.167,"m":468,"lo":410,"hi":474,"l":"5/10"},
{"d":9.183,"m":430,"lo":400,"hi":438,"l":"4/10"},
{"d":9.20,"m":432,"lo":405,"hi":440,"l":"4/10"},
{"d":9.217,"m":434,"lo":408,"hi":442,"l":"4/10"},
{"d":9.23,"m":432,"lo":406,"hi":440,"l":"4/10"},
{"d":9.243,"m":426,"lo":400,"hi":434,"l":"4/10"},
{"d":9.26,"m":388,"lo":375,"hi":394,"l":"5/10"},
{"d":9.283,"m":384,"lo":373,"hi":390,"l":"5/10"},
{"d":9.32,"m":382,"lo":372,"hi":388,"l":"5/10"},
{"d":9.36,"m":380,"lo":371,"hi":386,"l":"5/10"},
{"d":9.40,"m":380,"lo":371,"hi":386,"l":"5/10"},
{"d":9.44,"m":381,"lo":372,"hi":387,"l":"4/10"},
{"d":9.48,"m":380,"lo":371,"hi":386,"l":"5/10"},
{"d":9.52,"m":380,"lo":371,"hi":386,"l":"5/10"},
{"d":9.56,"m":381,"lo":372,"hi":387,"l":"5/10"},
{"d":9.58,"m":380,"lo":371,"hi":386,"l":"9/10"},
{"d":9.60,"m":381,"lo":372,"hi":387,"l":"9/10"},
{"d":9.62,"m":380,"lo":371,"hi":386,"l":"5/10"},
{"d":9.66,"m":380,"lo":371,"hi":386,"l":"5/10"},
{"d":9.70,"m":380,"lo":371,"hi":386,"l":"5/10"},
{"d":9.74,"m":381,"lo":372,"hi":387,"l":"4/10"},
{"d":9.77,"m":382,"lo":373,"hi":388,"l":"5/10"},
{"d":9.80,"m":388,"lo":376,"hi":394,"l":"2/10"},
{"d":9.815,"m":376,"lo":366,"hi":382,"l":"2/10"},
{"d":9.82,"m":372,"lo":362,"hi":378,"l":"2/10"}
]
},
"resolve": {"axis": {"x": "independent", "y": "independent"}},
"layer": [
{
"data": {"name": "bars"},
"mark": {"type": "rect", "clip": true},
"encoding": {
"x": {"field": "d0", "type": "quantitative", "scale": {"domain": [-0.18, 9.82], "nice": false, "zero": false},
"axis": {"orient": "bottom", "values": [0,0.25,0.5,0.75,1,1.25,1.5,1.75,2,2.25,2.5,2.75,3,3.25,3.5,3.75,4,4.25,4.5,4.75,5,5.25,5.5,5.75,6,6.25,6.5,6.75,7,7.25,7.5,7.75,8,8.25,8.5,8.75,9,9.25,9.5,9.75],
"domain": false, "grid": true, "zindex": 1,
"gridColor": {"condition": {"test": "datum.value % 1 === 0", "value": "#eaa0a0"}, "value": "#d2d2d2"},
"gridDash": [1, 2], "gridWidth": 1,
"ticks": true, "tickSize": 3,
"tickColor": {"condition": {"test": "datum.value % 1 === 0", "value": "#e07070"}, "value": "#b0b0b0"},
"labelExpr": "datum.value % 1 === 0.5 ? ['Fri 23 Oct','Sat 24 Oct','Sun 25 Oct','Mon 26 Oct','Tue 27 Oct','Wed 28 Oct','Thu 29 Oct','Fri 30 Oct','Sat 31 Oct','Sun 01 Nov'][floor(datum.value)] : ''",
"labelFont": "DejaVu Sans Mono", "labelFontSize": 12.2, "labelColor": "#000000", "labelPadding": 3, "labelBaseline": "top", "labelOverlap": false, "labelFlush": false, "labelBound": false,
"title": ["median rtt:\u00a0\u00a0390.3 ms avg\u00a0\u00a0523.9 ms max\u00a0\u00a0312.6 ms min\u00a0\u00a0371.7 ms now\u00a0\u00a0\u00a042.3 ms sd\u00a0\u00a09.2\u00a0\u00a0\u00a0am/s", "packet loss: 14.43 % avg\u00a0\u00a075.87 % max\u00a0\u00a0\u00a00.00 % min\u00a0\u00a014.41 % now", "loss color:", "probe:\u00a0\u00a0\u00a0\u00a0\u00a0\u00a0\u00a010 ICMP Echo Pings (56 Bytes) every 80s\u00a0\u00a0\u00a0\u00a0\u00a0\u00a0\u00a0\u00a0\u00a0\u00a0\u00a0\u00a0\u00a0\u00a0\u00a0\u00a0\u00a0\u00a0\u00a0\u00a0\u00a0\u00a0\u00a0\u00a0\u00a0\u00a0\u00a0\u00a0\u00a0\u00a0\u00a0\u00a0\u00a0\u00a0\u00a0\u00a0\u00a0\u00a0\u00a0\u00a0\u00a0\u00a0\u00a0end: Sun Nov\u00a0\u00a01 19:34:36 2020"],
"titleFont": "DejaVu Sans Mono", "titleFontSize": 14.5, "titleFontWeight": "normal", "titleColor": "#000000", "titleAnchor": "start", "titleAlign": "left", "titleBaseline": "top", "titleX": -61.3, "titleY": 25, "titleLineHeight": 17.3}},
"x2": {"field": "d1"},
"y": {"field": "b", "type": "quantitative", "scale": {"domain": [0, 633], "nice": false, "zero": false},
"axis": {"orient": "left", "values": [0,20,40,60,80,100,120,140,160,180,200,220,240,260,280,300,320,340,360,380,400,420,440,460,480,500,520,540,560,580,600,620],
"domain": false, "grid": true, "zindex": 1,
"gridColor": {"condition": {"test": "datum.value % 100 === 0", "value": "#eaa0a0"}, "value": "#d2d2d2"},
"gridDash": [1, 2], "gridWidth": 1,
"ticks": true, "tickSize": 3,
"tickColor": {"condition": {"test": "datum.value % 100 === 0", "value": "#e07070"}, "value": "#c0c0c0"},
"labelExpr": "datum.value % 100 === 0 ? (datum.value === 0 ? '0\u00a0\u00a0' : datum.value + '\u00a0m') : ''",
"labelFont": "DejaVu Sans Mono", "labelFontSize": 12.2, "labelColor": "#000000", "labelPadding": 4, "labelOverlap": false, "labelFlush": false, "labelBound": false,
"title": "Seconds", "titleFont": "DejaVu Sans Mono", "titleFontSize": 14, "titleFontWeight": "normal", "titleColor": "#000000", "titleAngle": 270, "titleX": -70, "titleY": 125, "titleAlign": "center", "titleBaseline": "middle"}},
"y2": {"datum": 633},
"fill": {"field": "s", "type": "ordinal", "scale": {"domain": [1, 2, 3, 4], "range": ["#cccccc", "#aaaaaa", "#8c8c8c", "#5a5a5a"]}, "legend": null}
}
},
{
"data": {"name": "pts"},
"mark": {"type": "area", "color": "#bdbdbd", "clip": true},
"encoding": {
"x": {"field": "d", "type": "quantitative", "scale": {"domain": [-0.18, 9.82], "nice": false, "zero": false},
"axis": {"orient": "top", "labels": false, "ticks": false, "domain": false, "grid": false, "title": "Last 10 Days", "titleFont": "DejaVu Sans Mono", "titleFontSize": 16.6, "titleFontWeight": "normal", "titleColor": "#000000", "titleX": 478, "titleY": -19, "titleAlign": "center", "titleBaseline": "alphabetic", "titleAnchor": null}},
"y": {"field": "lo", "type": "quantitative", "scale": {"domain": [0, 633], "nice": false, "zero": false},
"axis": {"orient": "right", "labels": false, "ticks": false, "domain": false, "grid": false, "title": "RRDTOOL / TOBI OETIKER", "titleFont": "DejaVu Sans Mono", "titleFontSize": 10.2, "titleFontWeight": "normal", "titleColor": "#b4b4b4", "titleAngle": 90, "titleX": 29, "titleY": -33, "titleAlign": "left", "titleBaseline": "middle", "titleAnchor": null}},
"y2": {"field": "hi"}
}
},
{
"data": {"name": "pts"},
"mark": {"type": "line", "color": "#4a4a4a", "strokeWidth": 5, "opacity": 0.6, "clip": true},
"encoding": {
"x": {"field": "d", "type": "quantitative", "axis": null},
"y": {"field": "m", "type": "quantitative", "axis": null}
}
},
{
"data": {"name": "pts"},
"mark": {"type": "line", "color": "#111111", "strokeWidth": 1.7, "clip": true},
"encoding": {
"x": {"field": "d", "type": "quantitative", "axis": null},
"y": {"field": "m", "type": "quantitative", "axis": null}
}
},
{
"data": {"name": "pts"},
"mark": {"type": "point", "shape": "M-1,-0.6H1V0.6H-1Z", "size": 16, "filled": true, "opacity": 1, "strokeWidth": 0, "clip": true},
"encoding": {
"x": {"field": "d", "type": "quantitative", "axis": null},
"y": {"field": "m", "type": "quantitative", "axis": null},
"color": {"field": "l", "type": "nominal",
"scale": {"domain": ["0", "1/10", "2/10", "3/10", "4/10", "5/10", "9/10"], "range": ["#26ff00", "#00b8ff", "#0059ff", "#5e00ff", "#7e00ff", "#dd00ff", "#ff0000"]},
"legend": {"orient": "none", "legendX": 55, "legendY": 310, "direction": "horizontal", "columns": 7, "title": null, "symbolType": "square", "symbolSize": 81, "symbolStrokeColor": "#000000", "symbolStrokeWidth": 1, "symbolOpacity": 1, "labelFont": "DejaVu Sans Mono", "labelFontSize": 14.5, "labelColor": "#000000", "labelOffset": 6, "columnPadding": 15, "padding": 0, "gridAlign": "none", "labelLimit": 0}}
}
},
{
"data": {"values": [{}]},
"mark": {"type": "rule", "color": "#555555", "strokeWidth": 1.5},
"encoding": {
"x": {"datum": -0.21, "type": "quantitative", "axis": null},
"x2": {"datum": 9.93},
"y": {"datum": 0, "type": "quantitative", "axis": null}
}
},
{
"data": {"values": [{}]},
"mark": {"type": "rule", "color": "#555555", "strokeWidth": 1.5},
"encoding": {
"x": {"datum": -0.18, "type": "quantitative", "axis": null},
"y": {"datum": -9, "type": "quantitative", "axis": null},
"y2": {"datum": 648}
}
},
{
"data": {"values": [{}]},
"mark": {"type": "point", "shape": "triangle-right", "size": 40, "filled": true, "color": "#9b1c1c", "opacity": 1},
"encoding": {
"x": {"datum": 9.95, "type": "quantitative", "axis": null},
"y": {"datum": 0, "type": "quantitative", "axis": null}
}
},
{
"data": {"values": [{}]},
"mark": {"type": "point", "shape": "triangle-up", "size": 40, "filled": true, "color": "#9b1c1c", "opacity": 1},
"encoding": {
"x": {"datum": -0.18, "type": "quantitative", "axis": null},
"y": {"datum": 651, "type": "quantitative", "axis": null}
}
}
]
}
